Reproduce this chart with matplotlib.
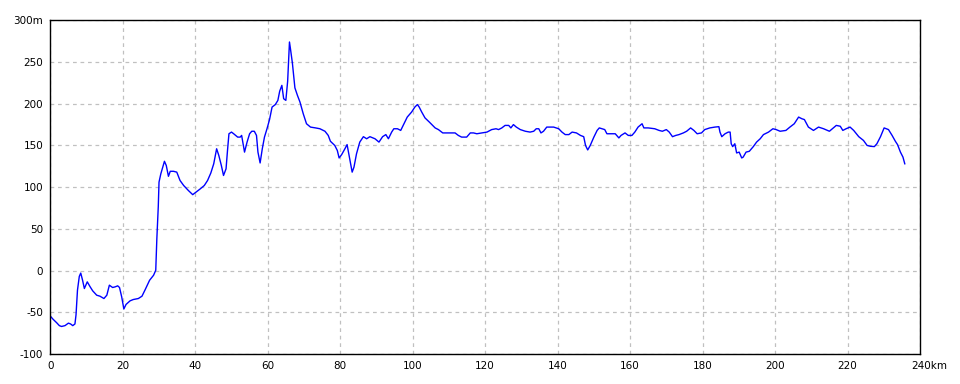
import matplotlib
matplotlib.use("Agg")
import matplotlib.pyplot as plt
import matplotlib.transforms as mtransforms

distance_km = [
    0, 0.8, 1.75, 2.5, 3.1, 4.05, 5.0, 5.6, 6.2, 6.8, 7.1, 7.5, 8.0, 8.4, 8.9, 9.4,
    10.2, 11.0, 11.7, 12.8, 13.7, 14.8, 15.6, 16.3, 17.2, 17.9, 18.6, 19.1, 19.7,
    20.3, 20.9, 22.0, 22.9, 24.3, 25.3, 26.2, 27.4, 28.5, 29.1, 29.4, 29.8, 30.0,
    30.5, 31.1, 31.5, 32.0, 32.6, 33.1, 34.0, 34.9, 35.8, 36.8, 38.1, 38.8, 39.3,
    40.5, 41.4, 42.5, 43.4, 44.3, 45.1, 45.9, 46.5, 47.2, 47.8, 48.5, 48.9, 49.3,
    50.0, 50.6, 51.7, 52.4, 52.8, 53.2, 53.6, 54.3, 55.0, 55.6, 56.3, 56.9, 57.3,
    57.9, 58.5, 59.1, 59.8, 60.5, 61.2, 62.1, 62.8, 63.3, 63.9, 64.4, 65.0, 65.5,
    66.0, 66.3, 66.8, 67.5, 68.2, 68.9, 69.8, 70.7, 71.8, 73.2, 74.4, 75.8, 76.7,
    77.3, 78.5, 79.2, 79.7, 80.4, 81.3, 81.9, 82.7, 83.3, 83.8, 84.5, 85.4, 86.4,
    87.3, 88.2, 89.6, 90.7, 91.7, 92.6, 93.3, 94.2, 94.8, 95.8, 96.7, 97.6, 98.5,
    99.7, 100.6, 101.3, 101.8, 102.5, 103.4, 104.6, 105.5, 106.2, 107.1, 108.3,
    109.9, 111.7, 112.6, 113.5, 114.9, 115.9, 116.8, 117.7, 119.1, 120.5, 121.8,
    123.0, 123.7, 124.6, 125.5, 126.5, 127.1, 127.8, 128.6, 129.7, 131.1, 132.4,
    133.4, 134.1, 134.8, 135.4, 136.1, 137.0, 138.9, 140.3, 141.2, 142.1, 143.1,
    144.0, 145.2, 146.3, 147.2, 147.7, 148.3, 149.0, 150.0, 150.9, 151.5, 152.3,
    153.0, 153.6, 154.6, 155.9, 156.9, 157.5, 158.6, 159.5, 160.5, 161.3, 162.2,
    163.3, 163.8, 165.0, 166.8, 168.0, 168.9, 170.0, 170.8, 171.7, 172.6, 173.5,
    174.7, 175.6, 176.7, 177.6, 178.5, 179.7, 180.6, 182.0, 183.4, 184.5, 184.8,
    185.3, 186.2, 187.1, 187.6, 187.9, 188.3, 188.9, 189.4, 190.1, 190.8, 191.2,
    192.0, 192.9, 194.0, 194.9, 195.9, 196.8, 198.2, 199.4, 200.3, 201.4, 203.0,
    204.1, 205.3, 206.5, 207.4, 208.1, 209.2, 210.6, 212.0, 213.4, 215.0, 216.1,
    216.9, 218.0, 218.7, 219.6, 220.7, 221.7, 223.1, 224.4, 225.4, 226.3, 227.4,
    228.1, 229.1, 230.1, 231.3, 232.3, 233.2, 233.8, 234.6, 235.3, 235.8,
]

elevation_m = [
    -54.6, -58.5, -62.5, -66, -67, -66, -63, -64, -66, -64, -53, -23.5, -7, -3, -11.5, -21.5,
    -13.5, -19.5, -24.3, -29.5, -30.7, -33.5, -29.5, -17.5, -20.3, -19.5, -18.3, -20.3, -31.5,
    -46, -40.6, -36.3, -34.7, -33.5, -30.7, -22.7, -11.6, -5.6, 0.4, 38, 77, 106,
    116, 125, 131, 126, 113, 119, 119, 118, 108, 102, 96, 93, 91,
    95, 98, 102, 108, 117, 128, 146, 138, 126, 114, 122, 144, 164,
    166, 164, 160, 160, 162, 152, 142, 154, 164, 167, 167, 162, 142,
    129, 146, 160, 170, 181, 196, 199, 204, 215, 222, 206, 204, 227,
    274, 265, 249, 219, 210, 202, 188, 176, 172, 171, 170, 167, 162,
    155, 150, 144, 135, 139, 146, 151, 132, 118, 124, 140, 154, 160.5,
    158, 160.5, 158, 154, 160.5, 163, 158, 166, 170, 170, 168, 176, 184,
    190, 196, 199, 196, 190, 183, 178, 174, 171, 169, 165,
    165, 165, 162, 160, 160, 165, 165, 164, 165, 166, 169,
    170, 169, 171, 174, 174, 171, 175, 172, 169, 167, 166,
    167, 170, 170, 165, 167, 172, 172, 170, 166, 163, 163,
    166, 165, 162, 160.5, 150, 144.6, 150, 160, 168, 171, 170,
    169, 164, 164, 164, 159, 162, 165, 162, 162, 166, 172,
    176, 171, 171, 170, 168, 167, 169, 166, 160.5, 162, 163,
    165, 167, 171, 168, 164, 165, 169, 171, 172, 172.5, 166,
    160.5, 164, 166, 166, 152, 148.6, 152, 141, 142, 135, 136,
    142, 143, 148.6, 154, 158, 163, 166, 170, 169, 167, 168,
    172, 176, 184, 182, 181, 172, 168, 172, 170, 167, 171,
    174, 173, 168, 170, 172, 168, 160.5, 156, 150, 149, 148.6,
    152, 160.5, 171, 169, 162, 155, 151, 142, 136, 128,
]

x_ticks = [0, 20, 40, 60, 80, 100, 120, 140, 160, 180, 200, 220, 240]
x_tick_labels = ["0", "20", "40", "60", "80", "100", "120", "140", "160", "180", "200", "220", "240km"]
y_ticks = [-100, -50, 0, 50, 100, 150, 200, 250, 300]
y_tick_labels = ["-100", "-50", "0", "50", "100", "150", "200", "250", "300m"]

plt.rcParams['font.family'] = ['DejaVu Sans']

fig = plt.figure(figsize=(9.6, 3.84), dpi=100)
ax = fig.add_axes([50.3 / 960, 1 - 354 / 384, (920 - 50.3) / 960, (354 - 20.3) / 384])

ax.plot(distance_km, elevation_m, color="#0000FF", linewidth=1.0)

ax.set_xlim(0, 240)
ax.set_ylim(-100, 300)
ax.set_xticks(x_ticks)
ax.set_xticklabels(x_tick_labels)
ax.set_yticks(y_ticks)
ax.set_yticklabels(y_tick_labels)
ax.tick_params(axis="both", length=0, labelsize=7.5, colors="black", pad=5)
ax.grid(True, color="#C0C0C0", linestyle=(0, (3, 3)), linewidth=0.9)
for s in ax.spines.values():
    s.set_color("black")
    s.set_linewidth(1.0)

# last x tick label: "240" centered on tick, "km" trailing
last = ax.get_xticklabels()[-1]
last.set_horizontalalignment("left")
last.set_transform(last.get_transform() + mtransforms.ScaledTranslation(-9 / 100, 0, fig.dpi_scale_trans))

fig.savefig("out.png", dpi=100, facecolor="white")
